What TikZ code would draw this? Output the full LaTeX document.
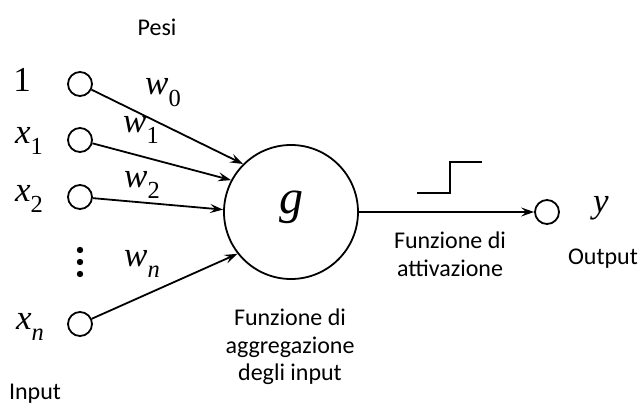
\documentclass[tikz,border=0pt]{standalone}
\usepackage{fontspec}
\setmainfont{Carlito}
\newfontfamily\timesfont{Liberation Serif}
\usetikzlibrary{arrows.meta}
\newcommand{\pvar}[2]{{\itshape #1}\raisebox{-0.34em}{\scalebox{0.7}{#2}}}

\begin{document}
\begin{tikzpicture}[x=1pt, y=-1pt,
  inp/.style={circle, draw, line width=1.8pt, minimum size=24pt, inner sep=0pt},
  wire/.style={line width=1.8pt, -{Stealth[length=13pt, width=9pt, inset=5pt]}},
  lbl/.style={font=\fontsize{24}{27.5}\selectfont, align=center},
  sym/.style={font=\timesfont\fontsize{35}{35}\selectfont, inner sep=0pt}]
\useasboundingbox (0,0) rectangle (639,407);

% inputs
\node[inp] (one) at (80,84) {};
\node[inp] (x1) at (80,140) {};
\node[inp] (x2) at (80,197) {};
\node[inp] (xn) at (80,324) {};
\foreach \yy in {250,262,274}
  \fill (80,\yy) circle (3.2pt);

\node[sym] (lone) at (22,80) {1};
\node[sym] (lx1) at (29,141) {\pvar{x}{\upshape 1}};
\node[sym] (lx2) at (29,199) {\pvar{x}{\upshape 2}};
\node[sym] (lxn) at (30,327) {\pvar{x}{\itshape n}};

% neuron
\node[circle, draw, line width=1.8pt, minimum size=134pt, inner sep=0pt] (g) at (291,212) {};
\node[sym, font=\timesfont\itshape\fontsize{48}{48}\selectfont] (gl) at (291,207) {g};

\draw[wire] (one) -- (g.135);
\draw[wire] (x1) -- (g.152);
\draw[wire] (x2) -- (g.178);
\draw[wire] (xn) -- (g.218);

% weights
\node[sym] (w0) at (163,93) {\pvar{w}{\upshape 0}};
\node[sym] (w1) at (141,130) {\pvar{w}{\upshape 1}};
\node[sym] (w2) at (142,185) {\pvar{w}{\upshape 2}};
\node[sym] (wn) at (142,264) {\pvar{w}{\itshape n}};

% output
\node[inp] (out) at (547,212) {};
\draw[wire] (g) -- (out);
\node[sym] (ly) at (601,208) {\itshape y};
\draw[line width=1.8pt] (417,193) -- (450,193) -- (450,162) -- (482,162);

% texts
\node[lbl] (pesi) at (157,27) {Pesi};
\node[lbl] (input) at (35,394) {Input};
\node[lbl] (output) at (603,259) {Output};
\node[lbl] (attiv) at (450,254) {Funzione di\\attivazione};
\node[lbl] (aggr) at (290,347) {Funzione di\\aggregazione\\degli input};
\end{tikzpicture}
\end{document}
